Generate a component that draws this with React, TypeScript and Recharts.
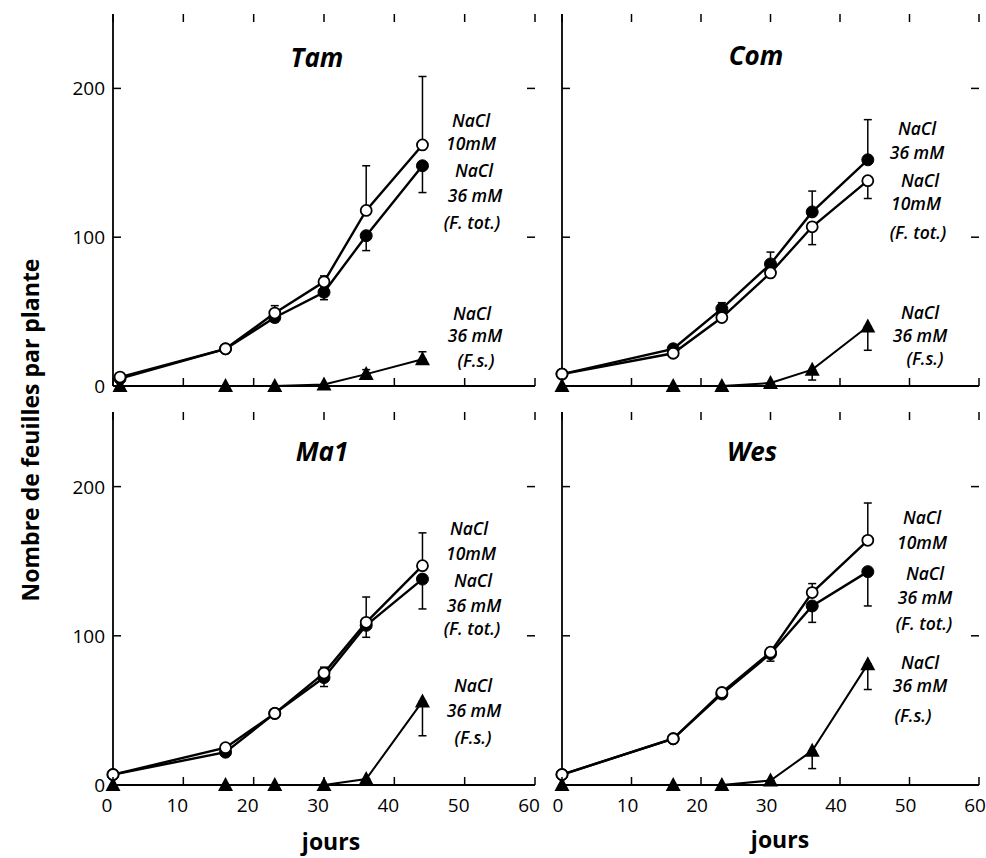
import React from 'react';
import { LineChart, Line, XAxis, YAxis, ErrorBar } from 'recharts';

const FONT = '"Open Sans", "DejaVu Sans", sans-serif';

// Tam
const TAM_DAYS = [1, 16, 23, 30, 36, 44];
const TAM_10 = [6, 25, 49, 70, 118, 162];
const TAM_10_ERR = [[0, 0], [0, 2], [0, 5], [0, 4], [0, 30], [0, 46]];
const TAM_36 = [5, 25, 46, 63, 101, 148];
const TAM_36_ERR = [[0, 0], [2, 0], [3, 0], [5, 0], [10, 0], [18, 0]];
const TAM_FS = [0, 0, 0, 1, 8, 18];
const TAM_FS_ERR = [[0, 0], [0, 0], [0, 0], [0, 0], [0, 3], [0, 5]];

// Com
const COM_DAYS = [0, 16, 23, 30, 36, 44];
const COM_10 = [8, 22, 46, 76, 107, 138];
const COM_10_ERR = [[0, 0], [0, 0], [0, 0], [2, 0], [12, 0], [12, 0]];
const COM_36 = [8, 25, 52, 82, 117, 152];
const COM_36_ERR = [[0, 0], [0, 0], [0, 4], [0, 8], [0, 14], [0, 27]];
const COM_FS = [0, 0, 0, 2, 11, 40];
const COM_FS_ERR = [[0, 0], [0, 0], [0, 0], [0, 0], [7, 0], [16, 0]];

// Ma1
const MA1_DAYS = [0, 16, 23, 30, 36, 44];
const MA1_10 = [7, 25, 48, 75, 109, 147];
const MA1_10_ERR = [[0, 0], [0, 0], [0, 0], [0, 4], [0, 17], [0, 22]];
const MA1_36 = [7, 22, 48, 72, 107, 138];
const MA1_36_ERR = [[0, 0], [0, 0], [0, 0], [6, 0], [8, 0], [20, 0]];
const MA1_FS = [0, 0, 0, 0, 4, 56];
const MA1_FS_ERR = [[0, 0], [0, 0], [0, 0], [0, 0], [0, 0], [23, 0]];

// Wes
const WES_DAYS = [0, 16, 23, 30, 36, 44];
const WES_10 = [7, 31, 62, 89, 129, 164];
const WES_10_ERR = [[0, 0], [0, 0], [0, 0], [0, 3], [0, 6], [0, 25]];
const WES_36 = [7, 31, 61, 88, 120, 143];
const WES_36_ERR = [[0, 0], [0, 0], [0, 0], [5, 0], [11, 0], [23, 0]];
const WES_FS = [0, 0, 0, 3, 23, 81];
const WES_FS_ERR = [[0, 0], [0, 0], [0, 0], [0, 0], [12, 0], [17, 0]];

const X_TICKS = [0, 10, 20, 30, 40, 50, 60];
const Y_TICKS = [0, 100, 200];

const buildRows = (days, v10, e10, v36, e36, fs, efs) =>
  days.map((d, i) => ({
    day: d,
    open: v10[i],
    openErr: e10[i],
    filled: v36[i],
    filledErr: e36[i],
    fs: fs[i],
    fsErr: efs[i],
  }));

// layout (page pixels)
const COL_L = { left: 113, right: 535 };
const COL_R = { left: 562, right: 979 };
const ROW_T = { top: 14, bottom: 386 };
const ROW_B = { top: 412, bottom: 785 };
const AXW = 55;
const MT = 10;
const MR = 10;
const XH = 45;
const TICK = 8;

const OpenDot = (p) => {
  if (p.cx == null || p.cy == null) return null;
  return <circle key={`o-${p.index}`} cx={p.cx} cy={p.cy} r={5.5} fill="#fff" stroke="#000" strokeWidth={1.8} />;
};
const FilledDot = (p) => {
  if (p.cx == null || p.cy == null) return null;
  return <circle key={`f-${p.index}`} cx={p.cx} cy={p.cy} r={6} fill="#000" stroke="#000" strokeWidth={1} />;
};
const TriDot = (p) => {
  if (p.cx == null || p.cy == null) return null;
  const { cx, cy } = p;
  return (
    <polygon
      key={`t-${p.index}`}
      points={`${cx},${cy - 8} ${cx - 7.5},${cy + 6} ${cx + 7.5},${cy + 6}`}
      fill="#000"
    />
  );
};

function Panel({ rows, col, row, yLabels, xLabels, xShift }) {
  const plotW = col.right - col.left;
  const plotH = row.bottom - row.top;
  const width = AXW + plotW + MR;
  const height = MT + plotH + XH;
  const pl = AXW;
  const pr = AXW + plotW;
  const pt = MT;
  const pb = MT + plotH;

  const yTick = (p) => (
    <g key={`yt-${p.index}`}>
      <line x1={pl} x2={pl + TICK} y1={p.y} y2={p.y} stroke="#000" strokeWidth={1.5} />
      <line x1={pr - TICK} x2={pr} y1={p.y} y2={p.y} stroke="#000" strokeWidth={1.5} />
      {yLabels && (
        <text x={pl - 8} y={p.y} textAnchor="end" dominantBaseline="central" fontSize={19} fontFamily={FONT} fill="#000">
          {p.payload.value}
        </text>
      )}
    </g>
  );

  const xTick = (p) => (
    <g key={`xt-${p.index}`}>
      <line x1={p.x} x2={p.x} y1={pb} y2={pb - TICK} stroke="#000" strokeWidth={1.5} />
      <line x1={p.x} x2={p.x} y1={pt} y2={pt + TICK} stroke="#000" strokeWidth={1.5} />
      {xLabels && (
        <text x={p.x + xShift} y={pb + 20} textAnchor="middle" dominantBaseline="central" fontSize={19} fontFamily={FONT} fill="#000">
          {p.payload.value}
        </text>
      )}
    </g>
  );

  return (
    <div style={{ position: 'absolute', left: col.left - AXW, top: row.top - MT }}>
      <LineChart width={width} height={height} data={rows} margin={{ top: MT, right: MR, bottom: 0, left: 0 }}>
        <XAxis
          dataKey="day"
          type="number"
          domain={[0, 60]}
          ticks={X_TICKS}
          tickLine={false}
          axisLine={{ stroke: '#000', strokeWidth: 1.8 }}
          tick={xTick}
          height={XH}
          interval={0}
        />
        <XAxis xAxisId="top" orientation="top" type="number" domain={[0, 60]} height={0} tick={false} tickLine={false} axisLine={{ stroke: '#000', strokeWidth: 1.8 }} />
        <YAxis
          type="number"
          domain={[0, 250]}
          ticks={Y_TICKS}
          tickLine={false}
          axisLine={{ stroke: '#000', strokeWidth: 1.8 }}
          tick={yTick}
          width={AXW}
          interval={0}
        />
        <YAxis yAxisId="right" orientation="right" type="number" domain={[0, 250]} width={0} tick={false} tickLine={false} axisLine={{ stroke: '#000', strokeWidth: 1.8 }} />
        <Line dataKey="fs" stroke="#000" strokeWidth={2} dot={TriDot} isAnimationActive={false}>
          <ErrorBar dataKey="fsErr" width={4} stroke="#000" strokeWidth={1.5} direction="y" />
        </Line>
        <Line dataKey="filled" stroke="#000" strokeWidth={2.4} dot={FilledDot} isAnimationActive={false}>
          <ErrorBar dataKey="filledErr" width={4} stroke="#000" strokeWidth={1.5} direction="y" />
        </Line>
        <Line dataKey="open" stroke="#000" strokeWidth={2.4} dot={OpenDot} isAnimationActive={false}>
          <ErrorBar dataKey="openErr" width={4} stroke="#000" strokeWidth={1.5} direction="y" />
        </Line>
      </LineChart>
    </div>
  );
}

const TITLES = [
  ['Tam', 317, 57],
  ['Com', 756, 55],
  ['Ma1', 322, 451],
  ['Wes', 752, 451],
];

const NOTES = [
  ['NaCl', 471, 120], ['10mM', 471, 143], ['NaCl', 474, 170], ['36 mM', 475, 195], ['(F. tot.)', 472, 222],
  ['NaCl', 472, 313], ['36 mM', 475, 335], ['(F.s.)', 476, 360],
  ['NaCl', 917, 128], ['36 mM', 917, 152], ['NaCl', 920, 180], ['10mM', 916, 203], ['(F. tot.)', 918, 232],
  ['NaCl', 920, 312], ['36 mM', 920, 335], ['(F.s.)', 925, 358],
  ['NaCl', 469, 528], ['10mM', 471, 553], ['NaCl', 473, 580], ['36 mM', 474, 605], ['(F. tot.)', 472, 628],
  ['NaCl', 473, 685], ['36 mM', 474, 710], ['(F.s.)', 473, 737],
  ['NaCl', 922, 517], ['10mM', 922, 542], ['NaCl', 925, 573], ['36 mM', 925, 597], ['(F. tot.)', 924, 623],
  ['NaCl', 920, 662], ['36 mM', 920, 685], ['(F.s.)', 913, 715],
];

export default function App() {
  return (
    <div style={{ position: 'absolute', left: 0, top: 0, width: 986, height: 858, background: '#fff', overflow: 'hidden' }}>
      <Panel rows={buildRows(TAM_DAYS, TAM_10, TAM_10_ERR, TAM_36, TAM_36_ERR, TAM_FS, TAM_FS_ERR)} col={COL_L} row={ROW_T} yLabels xLabels={false} xShift={-6} />
      <Panel rows={buildRows(COM_DAYS, COM_10, COM_10_ERR, COM_36, COM_36_ERR, COM_FS, COM_FS_ERR)} col={COL_R} row={ROW_T} yLabels={false} xLabels={false} xShift={-4} />
      <Panel rows={buildRows(MA1_DAYS, MA1_10, MA1_10_ERR, MA1_36, MA1_36_ERR, MA1_FS, MA1_FS_ERR)} col={COL_L} row={ROW_B} yLabels xLabels xShift={-6} />
      <Panel rows={buildRows(WES_DAYS, WES_10, WES_10_ERR, WES_36, WES_36_ERR, WES_FS, WES_FS_ERR)} col={COL_R} row={ROW_B} yLabels={false} xLabels xShift={-4} />
      <svg width={986} height={858} style={{ position: 'absolute', left: 0, top: 0, pointerEvents: 'none' }}>
        {TITLES.map(([t, x, y]) => (
          <text key={t} x={x} y={y} textAnchor="middle" dominantBaseline="central" fontSize={26} fontWeight="bold" fontStyle="italic" fontFamily={FONT}>
            {t}
          </text>
        ))}
        {NOTES.map(([t, x, y], i) => (
          <text key={i} x={x} y={y} textAnchor="middle" dominantBaseline="central" fontSize={17.5} fontWeight={600} fontStyle="italic" fontFamily={FONT}>
            {t}
          </text>
        ))}
        <text x={331} y={841} textAnchor="middle" dominantBaseline="central" fontSize={23} fontWeight="bold" fontFamily={FONT}>jours</text>
        <text x={780} y={839} textAnchor="middle" dominantBaseline="central" fontSize={23} fontWeight="bold" fontFamily={FONT}>jours</text>
        <text x={30} y={430} transform="rotate(-90 30 430)" textAnchor="middle" dominantBaseline="central" fontSize={23} fontWeight="bold" fontFamily={FONT}>
          Nombre de feuilles par plante
        </text>
      </svg>
    </div>
  );
}
